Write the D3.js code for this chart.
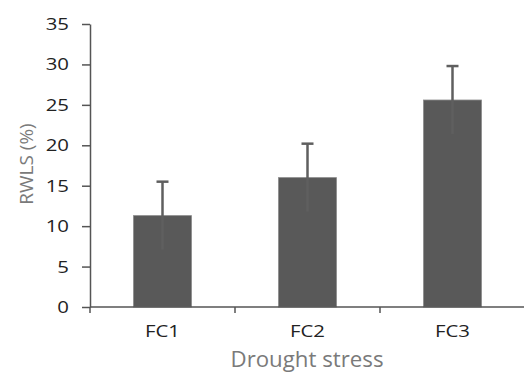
<!DOCTYPE html>
<html>
<head>
<meta charset="utf-8">
<script src="https://cdn.jsdelivr.net/npm/d3@7"></script>
<style>
  body { margin: 0; background: #fff; }
  text { font-family: "Open Sans", sans-serif; }
</style>
</head>
<body>
<div class="grafico"></div>
<script>
var categorias = ['FC1', 'FC2', 'FC3'];
var valores = [11.3, 16.0, 25.6];
var errores = [4.2, 4.2, 4.2];
var ticksY = [0, 5, 10, 15, 20, 25, 30, 35];

var contenedor = d3
  .select('.grafico')
  .append('svg')
  .attr('width', 524)
  .attr('height', 372);

const xScale = d3.scaleBand()
  .domain(categorias)
  .range([90, 525])
  .paddingInner(0.6)
  .paddingOuter(0.3);

const yScale = d3.scaleLinear()
  .domain([0, 35])
  .range([307, 24]);

// barras
contenedor
  .append('g')
  .selectAll('rect')
  .data(valores)
  .enter()
  .append('rect')
  .attr('x', (d, i) => xScale(categorias[i]))
  .attr('y', d => yScale(d))
  .attr('width', xScale.bandwidth())
  .attr('height', d => yScale(0) - yScale(d))
  .attr('fill', '#595959')
  .attr('stroke', '#8a8a8a')
  .attr('stroke-width', 0.8);

// barras de error
var err = contenedor.append('g').attr('stroke', '#5f5f5f').attr('stroke-width', 2.5);
valores.forEach(function (v, i) {
  var cx = xScale(categorias[i]) + xScale.bandwidth() / 2;
  err.append('line')
    .attr('x1', cx).attr('x2', cx)
    .attr('y1', yScale(v - errores[i])).attr('y2', yScale(v + errores[i]));
  err.append('line')
    .attr('x1', cx - 6).attr('x2', cx + 6)
    .attr('y1', yScale(v + errores[i])).attr('y2', yScale(v + errores[i]));
});

// eje y
const yAxis = d3.axisLeft(yScale).tickValues(ticksY).tickSize(8).tickSizeOuter(0).tickPadding(13);
var ejeY = contenedor
  .append('g')
  .attr('transform', 'translate(90, 0)')
  .call(yAxis);
ejeY.attr('font-size', null).attr('font-family', null);
ejeY.selectAll('text')
  .style('font-size', '17px')
  .attr('fill', '#222')
  .attr('transform', function () {
    var x = +this.getAttribute('x');
    return 'translate(' + x + ',0) scale(1.2,1)';
  })
  .attr('x', 0);
ejeY.selectAll('line, path').attr('stroke', '#555').attr('stroke-width', 1.5);

// eje x: marcas entre categorías
var ejeX = contenedor.append('g');
ejeX.append('line')
  .attr('x1', 90).attr('x2', 525)
  .attr('y1', yScale(0)).attr('y2', yScale(0))
  .attr('stroke', '#555').attr('stroke-width', 1.5);
var bordes = d3.range(categorias.length + 1).map(i => 90 + i * xScale.step());
ejeX.selectAll('.marca')
  .data(bordes)
  .enter()
  .append('line')
  .attr('x1', d => d).attr('x2', d => d)
  .attr('y1', yScale(0)).attr('y2', yScale(0) + 6)
  .attr('stroke', '#555').attr('stroke-width', 1.5);
ejeX.selectAll('.etiqueta')
  .data(categorias)
  .enter()
  .append('text')
  .attr('transform', d => 'translate(' + (xScale(d) + xScale.bandwidth() / 2) + ',337) scale(1.2,1)')
  .attr('text-anchor', 'middle')
  .style('font-size', '17px')
  .attr('fill', '#222')
  .text(d => d);

// títulos
contenedor.append('text')
  .attr('transform', 'translate(307, 367) scale(1.06,1)')
  .attr('text-anchor', 'middle')
  .style('font-size', '21px')
  .attr('fill', '#7a7a7a')
  .text('Drought stress');

contenedor.append('text')
  .attr('transform', 'translate(33, 164) rotate(-90)')
  .attr('text-anchor', 'middle')
  .style('font-size', '19px')
  .attr('fill', '#7a7a7a')
  .text('RWLS (%)');
</script>
</body>
</html>
